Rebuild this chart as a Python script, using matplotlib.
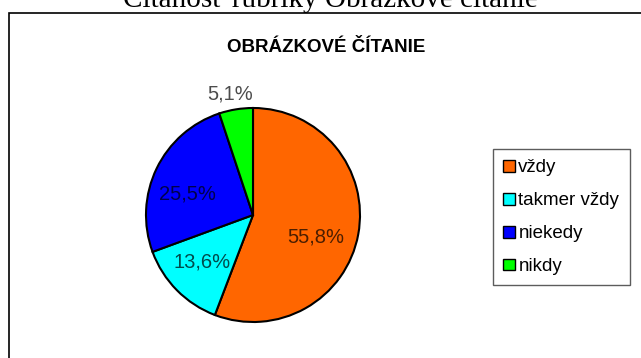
import matplotlib
matplotlib.use('Agg')
import matplotlib.pyplot as plt
from matplotlib.patches import Patch, Rectangle

# údaje z grafu
kategorie = ['vždy', 'takmer vždy', 'niekedy', 'nikdy']
hodnoty = [55.8, 13.6, 25.5, 5.1]
popisky = ['55,8%', '13,6%', '25,5%', '5,1%']
farby = ['#FF6600', '#00FFFF', '#0000FF', '#00FF00']

# pozície popiskov (v jednotkách polomeru koláča)
pozicie = [(0.59, -0.21), (-0.48, -0.44), (-0.61, 0.20), (-0.21, 1.13)]

W, H = 641, 358
fig = plt.figure(figsize=(W / 100, H / 100), dpi=100)
fig.patch.set_facecolor('white')

# horný nadpis dokumentu (z väčšej časti orezaný)
fig.text(330 / W, 1 - 7 / H, 'Čitanosť rubriky Obrázkové čítanie',
         family='Liberation Serif', fontsize=21, ha='center', va='baseline')

# rámik grafu
fig.patches.append(Rectangle((9 / W, -0.05), 1.1, 1 - 13 / H + 0.05,
                             transform=fig.transFigure, fill=False,
                             edgecolor='black', linewidth=1.2, clip_on=False))

fig.text(326 / W, 1 - 47 / H, 'OBRÁZKOVÉ ČÍTANIE', family='Liberation Sans',
         fontsize=13.5, fontweight='bold', ha='center', va='center')

# koláčový graf
r = 107
cx, cy = 253, 215
ax = fig.add_axes([(cx - r) / W, (H - cy - r) / H, 2 * r / W, 2 * r / H])
ax.pie(hodnoty, colors=farby, startangle=90, counterclock=False,
       wedgeprops=dict(edgecolor='black', linewidth=1.5))
ax.set_xlim(-1, 1)
ax.set_ylim(-1, 1)
ax.set_aspect('equal')
ax.axis('off')

for txt, (x, y) in zip(popisky, pozicie):
    ax.text(x, y, txt, family='Liberation Sans', fontsize=14.5,
            color='black', alpha=0.7, ha='center', va='center', clip_on=False)

# legenda
handles = [Patch(facecolor=c, edgecolor='black', linewidth=1) for c in farby]
leg = fig.legend(handles, kategorie, loc='upper left',
                 bbox_to_anchor=(493 / W, 1 - 149 / H),
                 prop={'family': 'Liberation Sans', 'size': 13.5},
                 handlelength=0.6, handleheight=0.6, handletextpad=0.2,
                 labelspacing=0.85, borderpad=0.55, borderaxespad=0,
                 fancybox=False, frameon=True)
leg.get_frame().set_edgecolor('#333333')
leg.get_frame().set_linewidth(1)

fig.savefig('out.png', dpi=100)
